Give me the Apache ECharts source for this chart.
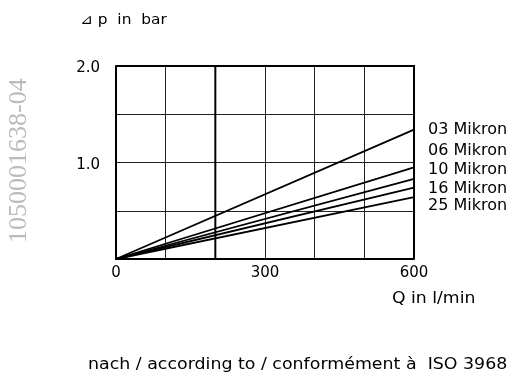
<!DOCTYPE html>
<html>
    <head>
        <meta charset="utf-8">
        <script src="https://cdn.jsdelivr.net/npm/echarts@6/dist/echarts.min.js"></script>
    </head>
    <body style="margin:0">
        <style>
            html, body, #main {
                width: 521px;
                height: 383px;
                background: #fff;
            }
        </style>
        <div id="main"></div>
        <script>
            // filter sizes and pressure drop at 600 l/min (straight lines from origin)
            var filterNames = ['03 Mikron', '06 Mikron', '10 Mikron', '16 Mikron', '25 Mikron'];
            var flowQ = [0, 600];
            var dp03 = [0, 1.34];
            var dp06 = [0, 0.95];
            var dp10 = [0, 0.83];
            var dp16 = [0, 0.74];
            var dp25 = [0, 0.64];
            var xTickLabels = ['0', '300', '600'];
            var yTickLabels = ['1.0', '2.0'];

            // label nudges so the names sit evenly spaced
            var labelOffsets = [[14, 0], [14, -16], [14, -9], [14, 1], [14, 9]];

            var chart = echarts.init(document.getElementById('main'));
            var font = 'DejaVu Sans';

            function pairs(ys) {
                return flowQ.map(function (q, i) { return [q, ys[i]]; });
            }

            var allData = [dp03, dp06, dp10, dp16, dp25];
            var series = allData.map(function (ys, i) {
                return {
                    name: filterNames[i],
                    type: 'line',
                    data: pairs(ys),
                    symbol: 'none',
                    lineStyle: { color: '#000', width: 1.8 },
                    endLabel: {
                        show: true,
                        formatter: filterNames[i],
                        offset: labelOffsets[i],
                        distance: 0,
                        color: '#000',
                        fontFamily: font,
                        fontSize: 16
                    },
                    z: 5
                };
            });

            // thicker vertical line at Q = 200
            series.push({
                type: 'line',
                data: [[200, 0], [200, 2]],
                symbol: 'none',
                lineStyle: { color: '#000', width: 2 },
                silent: true,
                z: 3
            });

            chart.setOption({
                animation: false,
                grid: { left: 116, top: 66, right: 107, bottom: 124 },
                xAxis: {
                    type: 'value',
                    min: 0,
                    max: 600,
                    interval: 100,
                    axisLine: { show: true, onZero: false, lineStyle: { color: '#000', width: 2 } },
                    axisTick: { show: false },
                    splitLine: { show: true, lineStyle: { color: '#222', width: 1 } },
                    axisLabel: {
                        margin: 7,
                        color: '#000',
                        fontFamily: font,
                        fontSize: 15,
                        formatter: function (v) {
                            return xTickLabels.indexOf(String(v)) >= 0 ? String(v) : '';
                        }
                    }
                },
                yAxis: {
                    type: 'value',
                    min: 0,
                    max: 2,
                    interval: 0.5,
                    axisLine: { show: true, lineStyle: { color: '#000', width: 2 } },
                    axisTick: { show: false },
                    splitLine: { show: true, lineStyle: { color: '#222', width: 1 } },
                    axisLabel: {
                        margin: 16,
                        color: '#000',
                        fontFamily: font,
                        fontSize: 15,
                        verticalAlign: 'top',
                        padding: [-5, 0, 0, 0],
                        formatter: function (v) {
                            var s = v.toFixed(1);
                            return yTickLabels.indexOf(s) >= 0 ? s : '';
                        }
                    }
                },
                series: series,
                graphic: [
                    // frame top and right
                    {
                        type: 'polyline',
                        shape: { points: [[116, 66], [414, 66], [414, 259]] },
                        style: { stroke: '#000', lineWidth: 2, fill: null },
                        z: 10
                    },
                    {
                        type: 'text',
                        x: 80,
                        y: 13,
                        scaleX: 1.1,
                        style: { text: '⊿ p  in  bar', fill: '#000', font: '14px ' + font }
                    },
                    {
                        type: 'text',
                        x: 392,
                        y: 292,
                        scaleX: 1.15,
                        style: { text: 'Q in l/min', fill: '#000', font: '15px ' + font }
                    },
                    {
                        type: 'text',
                        x: 88,
                        y: 358,
                        scaleX: 1.16,
                        style: { text: 'nach / according to / conformément à  ISO 3968', fill: '#000', font: '15px ' + font }
                    },
                    {
                        type: 'text',
                        x: 6,
                        y: 243,
                        rotation: Math.PI / 2,
                        style: { text: '1050001638-04', fill: '#bbb', font: '26px "Liberation Serif"' }
                    }
                ]
            });
        </script>
    </body>
</html>
